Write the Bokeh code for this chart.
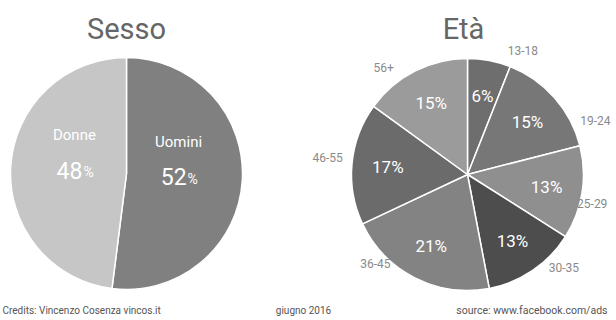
import math
from bokeh.plotting import figure
from bokeh.models import Range1d, ColumnDataSource
from bokeh.core.properties import value
from bokeh.embed import file_html
from bokeh.resources import INLINE

# ---- data ----
sesso_labels = ["Uomini", "Donne"]
sesso_values = [52, 48]
sesso_colors = ["#808080", "#c6c6c6"]

eta_labels = ["13-18", "19-24", "25-29", "30-35", "36-45", "46-55", "56+"]
eta_values = [6, 15, 13, 13, 21, 17, 15]
eta_colors = ["#6e6e6e", "#777777", "#8f8f8f", "#4d4d4d", "#838383", "#6b6b6b", "#9b9b9b"]

titles = ["Sesso", "Età"]
footer_texts = ["Credits: Vincenzo Cosenza vincos.it", "giugno 2016", "source: www.facebook.com/ads"]

# ---- layout (page pixel coordinates, y downwards) ----
FONT = "Roboto"
W, H = 612, 318
left_c = (126, 173)
right_c = (467, 174)
R = 116
# outer label placement for the age pie (degrees clockwise from top, distance)
outer_angles = [24, 67, 103, 134, 226, 277, 322]
outer_dists = [136, 139, 128, 134, 128, 141, 136]

p = figure(width=W, height=H, output_backend="svg", toolbar_location=None,
           x_range=Range1d(0, W), y_range=Range1d(-H, 0),
           min_border=0, background_fill_color="white", border_fill_color="white")
p.axis.visible = False
p.grid.visible = False
p.outline_line_color = None


def wedges(center, vals, colors):
    total = float(sum(vals))
    starts, ends, mids = [], [], []
    acc = 0.0
    for v in vals:
        a0 = acc / total * 2 * math.pi
        acc += v
        a1 = acc / total * 2 * math.pi
        starts.append(math.pi / 2 - a1)
        ends.append(math.pi / 2 - a0)
        mids.append((a0 + a1) / 2)
    src = ColumnDataSource(dict(x=[center[0]] * len(vals), y=[-center[1]] * len(vals),
                                s=starts, e=ends, c=colors))
    p.wedge(x="x", y="y", radius=R, start_angle="s", end_angle="e", fill_color="c",
            line_color="white", line_width=1.5, source=src)
    return mids


# Sesso pie
mids_s = wedges(left_c, sesso_values, sesso_colors)
xs, ys_name, ys_num = [], [], []
for m in mids_s:
    x = left_c[0] + 0.45 * R * math.sin(m)
    y = left_c[1] - 0.45 * R * math.cos(m)
    xs.append(x)
    ys_name.append(-(y - 35))
    ys_num.append(-y)
p.text(x=xs, y=ys_name, text=sesso_labels, text_color="white", text_font=value(FONT),
       text_font_size="15px", text_align="center", text_baseline="middle")
p.text(x=[x + 8 for x in xs], y=ys_num, text=[str(v) for v in sesso_values], text_color="white",
       text_font=value(FONT), text_font_size="23px", text_align="right", text_baseline="middle")
p.text(x=[x + 9 for x in xs], y=[y - 2 for y in ys_num], text=["%"] * len(xs), text_color="white",
       text_font=value(FONT), text_font_size="14px", text_align="left", text_baseline="middle")

# Età pie
mids_e = wedges(right_c, eta_values, eta_colors)
ix = [right_c[0] + 0.69 * R * math.sin(m) for m in mids_e]
iy = [-(right_c[1] - 0.69 * R * math.cos(m)) for m in mids_e]
p.text(x=ix, y=iy, text=[f"{v}%" for v in eta_values], text_color="white", text_font=value(FONT),
       text_font_size="17px", text_align="center", text_baseline="middle")
ox = [right_c[0] + d * math.sin(math.radians(a)) for a, d in zip(outer_angles, outer_dists)]
oy = [-(right_c[1] - d * math.cos(math.radians(a))) for a, d in zip(outer_angles, outer_dists)]
p.text(x=ox, y=oy, text=eta_labels, text_color="#8a8a8a", text_font=value(FONT),
       text_font_size="12px", text_align="center", text_baseline="middle")

# titles
p.text(x=[left_c[0], right_c[0] - 4], y=[-28, -28], text=titles, text_color="#666666",
       text_font=value(FONT), text_font_size="29px", text_align="center", text_baseline="middle")

# footer
p.text(x=[2], y=[-310], text=[footer_texts[0]], text_color="#555555", text_font=value(FONT),
       text_font_size="10px", text_align="left", text_baseline="middle")
p.text(x=[303], y=[-310], text=[footer_texts[1]], text_color="#555555", text_font=value(FONT),
       text_font_size="10px", text_align="center", text_baseline="middle")
p.text(x=[607], y=[-310], text=[footer_texts[2]], text_color="#555555", text_font=value(FONT),
       text_font_size="10.5px", text_align="right", text_baseline="middle")

open("out.html", "w").write(file_html(p, INLINE))
